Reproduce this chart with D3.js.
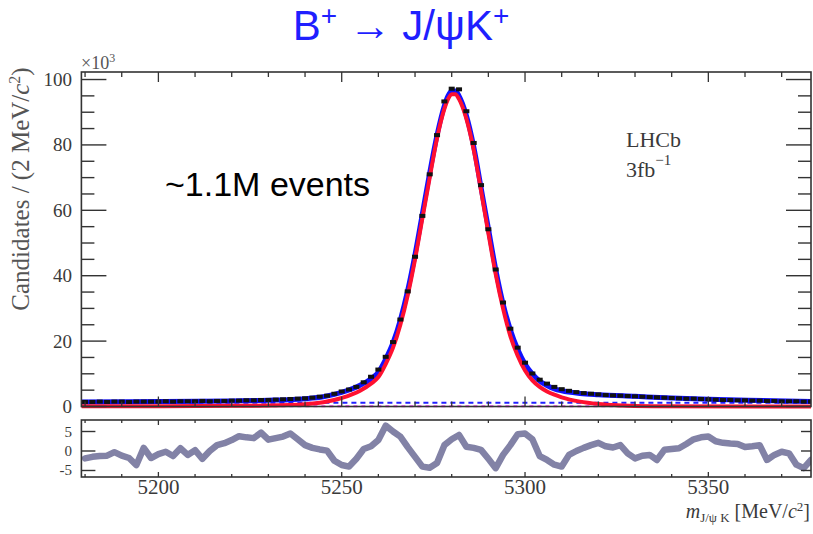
<!DOCTYPE html>
<html><head><meta charset="utf-8">
<script src="https://cdn.jsdelivr.net/npm/d3@7"></script>
<style>html,body{margin:0;padding:0;background:#fff;}svg{display:block;}</style>
</head><body>
<svg id="c" width="813" height="534"></svg>
<script>
// ---------- data ----------
// bin centres (2 MeV bins) 5180 ... 5378 and candidates (x10^3)
const binCentres = d3.range(100).map(i => 5180 + 2 * i);
const candidates = [
  1.4,1.4,1.5,1.4,1.5,1.5,1.4,1.5,1.5,1.5,
  1.5,1.6,1.5,1.6,1.6,1.6,1.7,1.6,1.7,1.7,
  1.8,1.8,1.9,1.9,2.0,2.0,2.1,2.2,2.3,2.4,
  2.5,2.7,3.0,3.3,3.9,4.6,5.2,6.0,7.4,9.1,
  11.3,15.2,19.7,26.6,35.2,45.8,58.3,71.0,83.0,93.3,
  97.2,97.0,90.3,80.6,67.7,54.2,41.9,31.8,23.8,18.0,
  13.4,10.1,8.2,7.0,6.0,5.3,4.8,4.4,4.1,3.9,
  3.7,3.5,3.4,3.3,3.2,3.1,3.0,2.9,2.8,2.7,
  2.6,2.5,2.4,2.4,2.3,2.2,2.1,2.0,2.0,1.9,
  1.9,1.8,1.8,1.7,1.7,1.6,1.6,1.6,1.5,1.5
];
// pulls per bin
const pulls = [
  -1.9,-1.5,-1.3,-1.2,-0.3,-1.2,-1.8,-3.6,0.8,-1.8,
  -0.8,-0.2,-1.3,0.7,-1.0,0.2,-2.0,0.0,1.5,2.0,
  2.8,3.8,3.5,3.3,4.7,2.9,3.3,3.7,4.5,3.0,
  1.5,0.8,0.4,0.1,-2.5,-3.6,-4.0,-2.0,0.5,1.2,
  2.8,6.5,5.0,3.7,1.0,-1.5,-4.0,-4.3,-3.1,1.5,
  3.0,4.1,1.1,0.8,0.3,-2.0,-4.4,-1.0,1.5,4.3,
  4.5,3.0,-1.3,-2.3,-3.5,-4.0,-1.0,0.0,0.8,1.5,
  2.1,1.2,0.9,1.5,-0.6,-1.9,-1.2,-1.0,-2.3,0.3,
  0.5,0.7,1.8,3.0,3.5,3.7,2.5,2.1,1.9,1.8,
  1.0,1.2,1.5,-2.3,-1.0,-0.2,-0.6,-3.5,-4.4,-2.3
];
// total fit (blue) sampled
const totalMass = [5179,5200,5220,5230,5240,5245,5250,5255,5258,5260,5262,5264,5266,5268,5270,5272,5274,5276,5278,5279,5280,5281,5282,5284,5286,5288,5290,5292,5294,5296,5298,5300,5302,5304,5306,5308,5310,5315,5320,5330,5340,5350,5365,5378];
const totalFit  = [1.4,1.5,1.7,1.9,2.4,3.0,4.3,6.5,8.5,10.5,14.5,19.5,26.5,35.5,46.5,59,71.5,83,92,95,96.5,96.5,95,89,79.5,67,54.5,42,31.5,23.5,17.5,13.0,10.0,7.8,6.4,5.4,4.8,4.0,3.6,3.1,2.6,2.2,1.8,1.5];
// signal component (red) sampled
const signalMass = [5179,5200,5220,5230,5240,5245,5250,5255,5258,5260,5262,5264,5266,5268,5270,5272,5274,5276,5278,5279,5280,5281,5282,5284,5286,5288,5290,5292,5294,5296,5298,5300,5302,5304,5306,5308,5310,5315,5320,5325,5335,5378];
const signalFit  = [0.05,0.1,0.2,0.3,0.7,1.3,2.6,4.8,7.0,9.0,13.0,18.0,25.0,34.0,45.0,57.5,70.0,82.0,91.0,94.0,95.5,95.5,94.0,88.0,78.5,66.0,53.0,40.5,30.0,21.5,15.5,11.0,8.0,6.0,4.6,3.6,2.8,1.5,0.8,0.4,0.1,0.0];
// background components
const bkgMass = [5179,5378];
const combBkg = [1.15,1.15];
const otherBkg = [0.1,0.1];

const xTicks = [5200,5250,5300,5350];
const yTicks = [0,20,40,60,80,100];
const pullTicks = [-5,0,5];

// ---------- layout ----------
const svg = d3.select("#c");
const L = 81.4, R = 811;
const x = d3.scaleLinear().domain([5179,5378]).range([L,R]);
const y = d3.scaleLinear().domain([0,102.3]).range([406.5,72]);
const yp = d3.scaleLinear().domain([-6.67,7.95]).range([477,420]);
const serif = "'Liberation Serif','DejaVu Serif',serif";
const sans = "'Liberation Sans',Arial,sans-serif";
const txtCol = "#3a3a3a";

// title
const t = svg.append("text").attr("x",401).attr("y",40).attr("text-anchor","middle")
  .attr("font-family",sans).attr("font-size",42).attr("fill","#1f1fff");
t.append("tspan").text("B");
t.append("tspan").attr("dy",-15).attr("font-size",28).text("+");
t.append("tspan").attr("dy",15).text(" \u2192 J/\u03C8K");
t.append("tspan").attr("dy",-15).attr("font-size",28).text("+");

// ---------- main pad ----------
const main = svg.append("g");
main.append("clipPath").attr("id","clipM").append("rect").attr("x",L).attr("y",72).attr("width",R-L).attr("height",340);

const plot = main.append("g").attr("clip-path","url(#clipM)");
const lineOf = (xs, ys) => d3.line().x((d,i)=>x(xs[i])).y((d,i)=>y(ys[i])).curve(d3.curveMonotoneX)(ys);

plot.append("path").attr("d",lineOf(bkgMass,otherBkg)).attr("fill","none")
  .attr("stroke","#ff40ff").attr("stroke-width",2).attr("stroke-dasharray","4,4");
plot.append("path").attr("d",lineOf(bkgMass,combBkg)).attr("fill","none")
  .attr("stroke","#2020ff").attr("stroke-width",2).attr("stroke-dasharray","5,4");
plot.append("path").attr("d",lineOf(totalMass,totalFit)).attr("fill","none")
  .attr("stroke","#1010ff").attr("stroke-width",5);
plot.append("path").attr("d",lineOf(signalMass,signalFit)).attr("fill","none")
  .attr("stroke","#ff1030").attr("stroke-width",4);

// data points
const pts = plot.append("g");
binCentres.forEach((m,i) => {
  const v = candidates[i];
  const err = Math.sqrt(v*1000)/1000;
  pts.append("line").attr("x1",x(m)).attr("x2",x(m)).attr("y1",y(v+err)).attr("y2",y(v-err))
    .attr("stroke","#111").attr("stroke-width",1);
  pts.append("rect").attr("x",x(m)-3).attr("y",y(v)-2).attr("width",6).attr("height",4).attr("fill","#111");
});

// frame main
const frameCol = "#333";
main.append("rect").attr("x",L).attr("y",72).attr("width",R-L).attr("height",406.5-72)
  .attr("fill","none").attr("stroke",frameCol).attr("stroke-width",1.6);

// x ticks main (top and bottom, inward)
const xMinor = d3.range(5180,5379,10);
xMinor.forEach(m => {
  const major = xTicks.includes(m);
  const len = major ? 10 : 5;
  main.append("line").attr("x1",x(m)).attr("x2",x(m)).attr("y1",72).attr("y2",72+len).attr("stroke",frameCol).attr("stroke-width",1.3);
  main.append("line").attr("x1",x(m)).attr("x2",x(m)).attr("y1",406.5).attr("y2",406.5-len).attr("stroke",frameCol).attr("stroke-width",1.3);
});
// y ticks main
d3.range(0,101,5).forEach(v => {
  const major = yTicks.includes(v);
  const len = major ? 25 : 13;
  main.append("line").attr("x1",L).attr("x2",L+len).attr("y1",y(v)).attr("y2",y(v)).attr("stroke",frameCol).attr("stroke-width",1.4);
  main.append("line").attr("x1",R).attr("x2",R-len).attr("y1",y(v)).attr("y2",y(v)).attr("stroke",frameCol).attr("stroke-width",1.4);
});
yTicks.forEach(v => {
  main.append("text").attr("x",72).attr("y",y(v)+6.5).attr("text-anchor","end")
    .attr("font-family",serif).attr("font-size",19).attr("fill",txtCol).text(v);
});
// x10^3
const e3 = main.append("text").attr("x",81).attr("y",69).attr("font-family",serif).attr("font-size",18).attr("fill","#555");
e3.append("tspan").text("\u00D710");
e3.append("tspan").attr("dy",-7).attr("font-size",12).text("3");

// y title
const yt = svg.append("text").attr("transform","translate(29,189) rotate(-90)").attr("text-anchor","middle")
  .attr("font-family",serif).attr("font-size",25).attr("fill","#555");
yt.append("tspan").text("Candidates / (2 MeV/");
yt.append("tspan").attr("font-style","italic").text("c");
yt.append("tspan").attr("dy",-9).attr("font-size",16).text("2");
yt.append("tspan").attr("dy",9).text(")");

// annotations
svg.append("text").attr("x",165).attr("y",196).attr("font-family",sans).attr("font-size",34).attr("fill","#000").text("~1.1M events");
svg.append("text").attr("x",626).attr("y",147).attr("font-family",serif).attr("font-size",22).attr("fill",txtCol).text("LHCb");
const fb = svg.append("text").attr("x",626).attr("y",177).attr("font-family",serif).attr("font-size",22).attr("fill",txtCol);
fb.append("tspan").text("3fb");
fb.append("tspan").attr("dy",-12).attr("font-size",15).text("\u22121");

// ---------- pull pad ----------
const pp = svg.append("g");
pp.append("clipPath").attr("id","clipP").append("rect").attr("x",L).attr("y",420).attr("width",R-L).attr("height",57);
pp.append("path").attr("clip-path","url(#clipP)")
  .attr("d", d3.line().x((d,i)=>x(binCentres[i])).y(d=>yp(d))(pulls))
  .attr("fill","none").attr("stroke","#8282a6").attr("stroke-width",6.5).attr("stroke-linejoin","round").attr("stroke-linecap","round");
pp.append("rect").attr("x",L).attr("y",420).attr("width",R-L).attr("height",57)
  .attr("fill","none").attr("stroke",frameCol).attr("stroke-width",1.6);
xMinor.forEach(m => {
  const major = xTicks.includes(m);
  const len = major ? 5 : 3;
  pp.append("line").attr("x1",x(m)).attr("x2",x(m)).attr("y1",420).attr("y2",420+len).attr("stroke",frameCol).attr("stroke-width",1.3);
  pp.append("line").attr("x1",x(m)).attr("x2",x(m)).attr("y1",477).attr("y2",477-len).attr("stroke",frameCol).attr("stroke-width",1.3);
});
pullTicks.forEach(v => {
  pp.append("line").attr("x1",L).attr("x2",L+14).attr("y1",yp(v)).attr("y2",yp(v)).attr("stroke",frameCol).attr("stroke-width",1.4);
  pp.append("line").attr("x1",R).attr("x2",R-10).attr("y1",yp(v)).attr("y2",yp(v)).attr("stroke",frameCol).attr("stroke-width",1.4);
  pp.append("text").attr("x",72).attr("y",yp(v)+5).attr("text-anchor","end")
    .attr("font-family",serif).attr("font-size",15).attr("fill",txtCol).text(v);
});
xTicks.forEach(m => {
  pp.append("text").attr("x",x(m)).attr("y",494).attr("text-anchor","middle")
    .attr("font-family",serif).attr("font-size",21).attr("fill",txtCol).text(m);
});
// x title
const xt = svg.append("text").attr("x",810).attr("y",518).attr("text-anchor","end")
  .attr("font-family",serif).attr("font-size",20).attr("fill",txtCol);
xt.append("tspan").attr("font-style","italic").text("m");
xt.append("tspan").attr("dy",4).attr("font-size",13).text("J/\u03C8 K");
xt.append("tspan").attr("dy",-4).text(" [MeV/");
xt.append("tspan").attr("font-style","italic").text("c");
xt.append("tspan").attr("dy",-7).attr("font-size",13).text("2");
xt.append("tspan").attr("dy",7).text("]");
</script>
</body></html>
